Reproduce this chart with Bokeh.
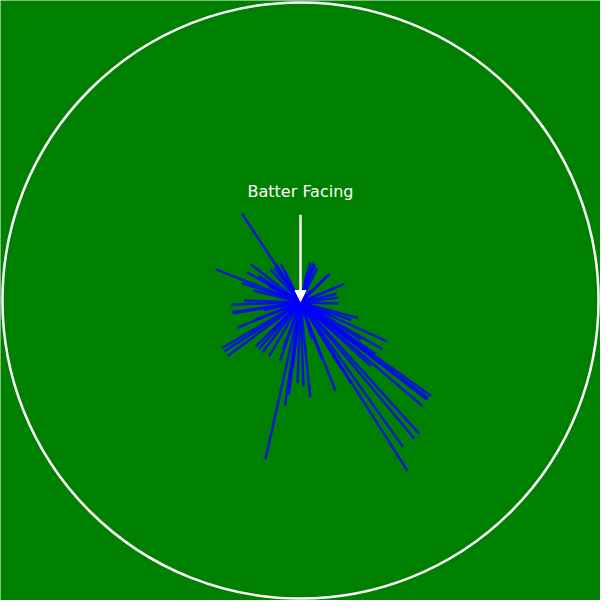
from bokeh.plotting import figure
from bokeh.models import Arrow, NormalHead
from bokeh.core.properties import value
from bokeh.embed import file_html
from bokeh.resources import INLINE

# Shot landing positions relative to the batter (field units)
shot_x = [-60, -87, -51, -55, -60, -31, -27, -25, -20, -16, -43, -38, -71, -69, -48, -33,
          10, 13, 15, 17, 28, 30, 45, 35, 39, 39, 37, 22, 7,
          59, 89, 84, 72, 52, 36, 134, 131, 130, 125, 122, 117, 105, 110, 47, 62, 32, 22, 42, 77, 12, 52, 30,
          -70, -65, -81, -78, -75, -46, -43, -39, -32, -21, -36, -16, -12, 3, 10, -8, -3, -28, -48, -18, -38, -58,
          -8, 10, 4, -13]
shot_y = [89, 32, 37, 29, 18, 32, 34, 37, 37, 30, 25, 20, -4, -13, 10, 15,
          39, 38, 37, 33, 26, 27, 17, 13, 3, -3, 7, 20, 30,
          -18, -42, -50, -67, -85, -93, -98, -100, -102, -108, -137, -142, -150, -175, -35, -40, -30, -60, -70, -55, -40, -20, -15,
          -12, -28, -49, -52, -57, -47, -50, -53, -57, -62, -163, -108, -97, -88, -99, -70, -85, -30, -20, -50, -10, 0,
          10, 10, -15, -10]

label_text = ["Batter Facing"]

p = figure(width=600, height=600, x_range=(-308, 308), y_range=(-308, 308),
           output_backend="svg", toolbar_location=None, min_border=0)
p.axis.visible = False
p.grid.visible = False
p.outline_line_color = None
p.background_fill_color = "green"
p.border_fill_color = "green"

p.circle(x=[0], y=[0], radius=306, fill_color=None, line_color="white", line_width=2.5)

n = len(shot_x)
p.segment(x0=[0] * n, y0=[-2] * n, x1=shot_x, y1=shot_y,
          line_color="blue", line_alpha=0.8, line_width=2.5)

p.add_layout(Arrow(end=NormalHead(size=11, fill_color="white", line_color="white"),
                   x_start=0, y_start=88, x_end=0, y_end=-1,
                   line_color="white", line_width=2.5))

p.text(x=[0], y=[112], text=label_text, text_color="white", text_align="center",
       text_baseline="middle", text_font=value("DejaVu Sans"), text_font_size="16px")

open("out.html", "w").write(file_html(p, INLINE))
